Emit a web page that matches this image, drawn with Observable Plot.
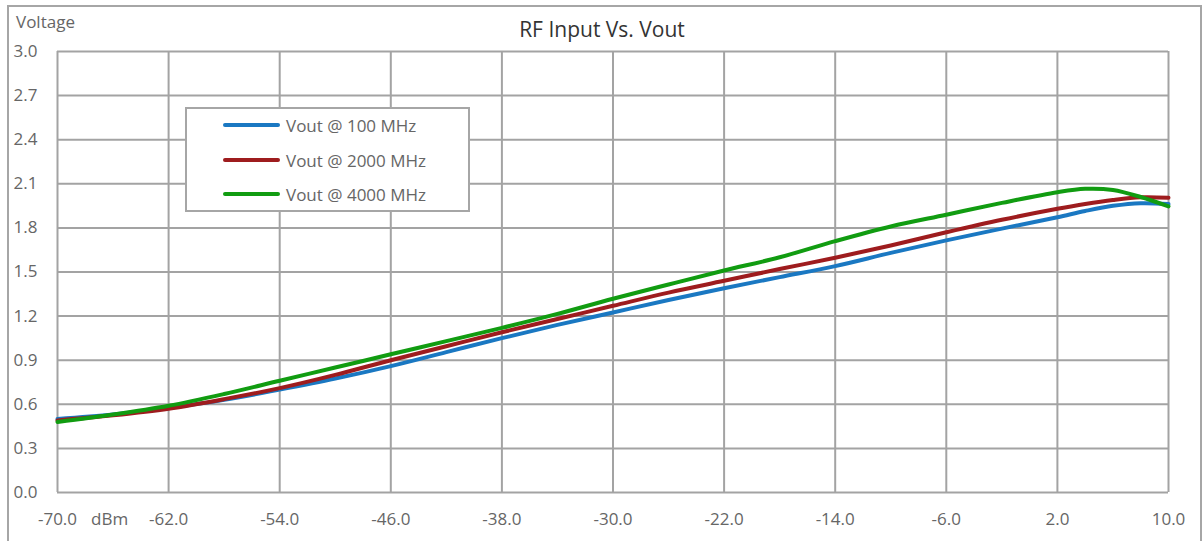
<!DOCTYPE html>
<html>
<head>
<meta charset="utf-8">
<script src="https://cdn.jsdelivr.net/npm/d3@7"></script>
<script src="https://cdn.jsdelivr.net/npm/@observablehq/plot@0.6"></script>
<style>
  html, body { margin: 0; padding: 0; background: #fff; }
  #wrap { position: relative; width: 1204px; height: 541px; overflow: hidden; font-family: "Open Sans", sans-serif; }
  #frame { position: absolute; left: 7px; top: 5px; width: 1195px; height: 560px; border: 2px solid #a6a6a6; box-sizing: border-box; pointer-events: none; }
  #title { position: absolute; left: 0; width: 1204px; top: 15px; text-align: center; font-size: 21px; color: #333; }
  #ylab { position: absolute; left: 16px; top: 10px; font-size: 17px; color: #666; }
  #xunit { position: absolute; left: 91px; top: 507px; font-size: 17px; color: #666; }
  #legend { position: absolute; left: 185px; top: 107px; width: 285px; height: 105px; border: 2px solid #a6a6a6; box-sizing: border-box; background: #fff; }
  .row { position: absolute; left: 36px; height: 24px; display: flex; align-items: center; font-size: 17px; color: #666; }
  .sw { width: 57px; height: 4px; border-radius: 2px; margin-right: 6px; }
</style>
</head>
<body>
<div id="wrap">
  <div id="chart"></div>
  <div id="frame"></div>
  <div id="title">RF Input Vs. Vout</div>
  <div id="ylab">Voltage</div>
  <div id="xunit">dBm</div>
  <div id="legend"></div>
</div>
<script>
const dbm = [-70, -66, -62, -58, -54, -50, -46, -42, -38, -34, -30, -26, -22, -18, -14, -10, -6, -2, 2, 4, 6, 8, 10];
const vout100  = [0.50, 0.53, 0.575, 0.63, 0.70, 0.775, 0.86, 0.955, 1.05, 1.14, 1.225, 1.31, 1.39, 1.465, 1.54, 1.63, 1.715, 1.795, 1.873, 1.915, 1.95, 1.968, 1.962];
const vout2000 = [0.49, 0.525, 0.57, 0.635, 0.71, 0.80, 0.90, 0.995, 1.09, 1.18, 1.27, 1.36, 1.44, 1.52, 1.597, 1.68, 1.77, 1.855, 1.93, 1.963, 1.99, 2.008, 2.005];
const vout4000 = [0.48, 0.53, 0.59, 0.67, 0.76, 0.85, 0.94, 1.03, 1.12, 1.215, 1.318, 1.415, 1.51, 1.60, 1.71, 1.81, 1.89, 1.97, 2.043, 2.066, 2.058, 2.01, 1.946];
const seriesNames = ["Vout @ 100 MHz", "Vout @ 2000 MHz", "Vout @ 4000 MHz"];
const seriesColors = ["#1a78c2", "#9e1c1e", "#119c11"];
const xTicks = [-70, -62, -54, -46, -38, -30, -22, -14, -6, 2, 10];
const yTicks = [0, 0.3, 0.6, 0.9, 1.2, 1.5, 1.8, 2.1, 2.4, 2.7, 3.0];

const allSeries = [vout100, vout2000, vout4000];
const rows = [];
allSeries.forEach((vals, si) => vals.forEach((v, i) => rows.push({x: dbm[i], y: v, s: seriesNames[si]})));

const fmt = d => d.toFixed(1);
const gridColor = "#a3a3a3";
const chart = Plot.plot({
  width: 1204,
  height: 541,
  marginLeft: 57,
  marginRight: 36,
  marginTop: 51,
  marginBottom: 49,
  style: {fontFamily: "Open Sans, sans-serif", fontSize: "17px", color: "#666", background: "transparent"},
  x: {domain: [-70, 10]},
  y: {domain: [0, 3]},
  color: {domain: seriesNames, range: seriesColors},
  marks: [
    Plot.gridX(xTicks, {stroke: gridColor, strokeOpacity: 1, strokeWidth: 2}),
    Plot.gridY(yTicks, {stroke: gridColor, strokeOpacity: 1, strokeWidth: 2}),
    Plot.axisX(xTicks, {tickSize: 0, tickPadding: 20, tickFormat: fmt, label: null, fill: "#666"}),
    Plot.axisY(yTicks, {tickSize: 0, tickPadding: 44, textAnchor: "start", tickFormat: fmt, label: null, fill: "#666"}),
    Plot.line(rows, {x: "x", y: "y", z: "s", stroke: "s", strokeWidth: 4, curve: "catmull-rom"})
  ]
});
document.getElementById("chart").appendChild(chart);

const leg = document.getElementById("legend");
const rowTops = [4, 39, 73];
seriesNames.forEach((n, i) => {
  const r = document.createElement("div");
  r.className = "row";
  r.style.top = rowTops[i] + "px";
  r.innerHTML = `<span class="sw" style="background:${seriesColors[i]}"></span><span>${n}</span>`;
  leg.appendChild(r);
});
</script>
</body>
</html>
